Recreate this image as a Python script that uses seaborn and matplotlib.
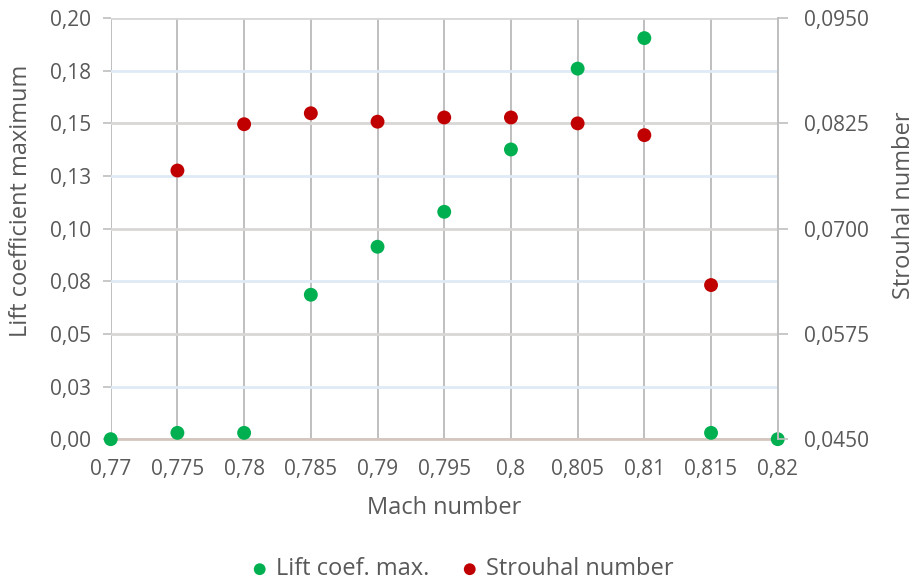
from decimal import Decimal, ROUND_HALF_UP

import pandas as pd
import seaborn as sns
import matplotlib.pyplot as plt
from matplotlib.ticker import MultipleLocator, FuncFormatter

# data
mach = [0.77, 0.775, 0.78, 0.785, 0.79, 0.795, 0.8, 0.805, 0.81, 0.815, 0.82]
lift_max = [0.0, 0.003, 0.003, 0.0686, 0.0914, 0.108, 0.1376, 0.176, 0.1905, 0.003, 0.0]
mach_st = [0.775, 0.78, 0.785, 0.79, 0.795, 0.8, 0.805, 0.81, 0.815]
strouhal = [0.0769, 0.0824, 0.0837, 0.0827, 0.0832, 0.0832, 0.0825, 0.0811, 0.0633]

lift_df = pd.DataFrame({'mach': mach, 'lift': lift_max})
st_df = pd.DataFrame({'mach': mach_st, 'st': strouhal})

sns.set_style('white')
plt.rcParams['font.family'] = ['Open Sans', 'DejaVu Sans']

text_col = '#595959'
green = '#00B050'
red = '#C00000'
tick_fs = 15
label_fs = 17


def comma_fmt(nd):
    q = Decimal(1).scaleb(-nd)

    def f(v, pos):
        s = str(Decimal(str(round(float(v), 8))).quantize(q, rounding=ROUND_HALF_UP))
        return s.replace('.', ',')
    return FuncFormatter(f)


def x_fmt(v, pos):
    s = ('%.3f' % v).rstrip('0').rstrip('.')
    return s.replace('.', ',')


fig = plt.figure(figsize=(9.15, 5.84), dpi=100)
ax = fig.add_axes([0.121, 0.248, 0.729, 0.721])
ax2 = ax.twinx()

sns.scatterplot(data=lift_df, x='mach', y='lift', ax=ax, color=green, s=100,
                edgecolor='none', label='Lift coef. max.', legend=False, zorder=5, clip_on=False)
sns.scatterplot(data=st_df, x='mach', y='st', ax=ax2, color=red, s=100,
                edgecolor='none', label='Strouhal number', legend=False, zorder=5, clip_on=False)

# left axis
ax.set_xlim(0.77, 0.82)
ax.set_ylim(0, 0.20)
ax.xaxis.set_major_locator(MultipleLocator(0.005))
ax.xaxis.set_major_formatter(FuncFormatter(x_fmt))
ax.yaxis.set_major_locator(MultipleLocator(0.05))
ax.yaxis.set_minor_locator(MultipleLocator(0.025))
ax.yaxis.set_major_formatter(comma_fmt(2))
ax.yaxis.set_minor_formatter(comma_fmt(2))

ax.grid(True, axis='x', color='#BFBFBF', linewidth=1.4)
ax.yaxis.grid(True, which='major', color='#D9D6D6', linewidth=2)
ax.yaxis.grid(True, which='minor', color='#DEEAF6', linewidth=2)
ax.set_axisbelow(True)

for side in ['left', 'top', 'right']:
    ax.spines[side].set_visible(False)
ax.spines['bottom'].set_color('#D5C6BD')
ax.spines['bottom'].set_linewidth(2)
ax.spines['bottom'].set_zorder(3)

ax.tick_params(axis='y', which='both', length=6, width=1.2, color='#BFBFBF',
               labelsize=tick_fs, labelcolor=text_col, pad=8, left=True)
ax.tick_params(axis='x', length=0, labelsize=tick_fs, labelcolor=text_col, pad=14)

ax.set_xlabel('Mach number', fontsize=label_fs, color=text_col, labelpad=12)
ax.set_ylabel('Lift coefficient maximum', fontsize=label_fs, color=text_col)
ax.yaxis.set_label_coords(-0.117, 0.567)

# right axis
ax2.set_ylim(0.045, 0.095)
ax2.yaxis.set_major_locator(MultipleLocator(0.0125, offset=0.045))
ax2.yaxis.set_major_formatter(comma_fmt(4))
for side in ['left', 'top', 'bottom']:
    ax2.spines[side].set_visible(False)
ax2.spines['right'].set_color('#BFBFBF')
ax2.spines['right'].set_linewidth(1.4)
ax2.tick_params(axis='y', length=7, width=1.2, color='#BFBFBF', labelsize=tick_fs,
                labelcolor=text_col, pad=12, right=True)
ax2.set_ylabel('Strouhal number', fontsize=label_fs, color=text_col)
ax2.yaxis.set_label_coords(1.171, 0.556)
ax2.grid(False)

handles = ax.collections[:1] + ax2.collections[:1]
fig.legend(handles, ['Lift coef. max.', 'Strouhal number'], loc='center',
           bbox_to_anchor=(0.505, 0.025), ncol=2, frameon=False, fontsize=label_fs,
           labelcolor=text_col, handlelength=0.8, handletextpad=0.3,
           columnspacing=1.3, markerscale=0.85)

fig.savefig('out.png', dpi=100)
